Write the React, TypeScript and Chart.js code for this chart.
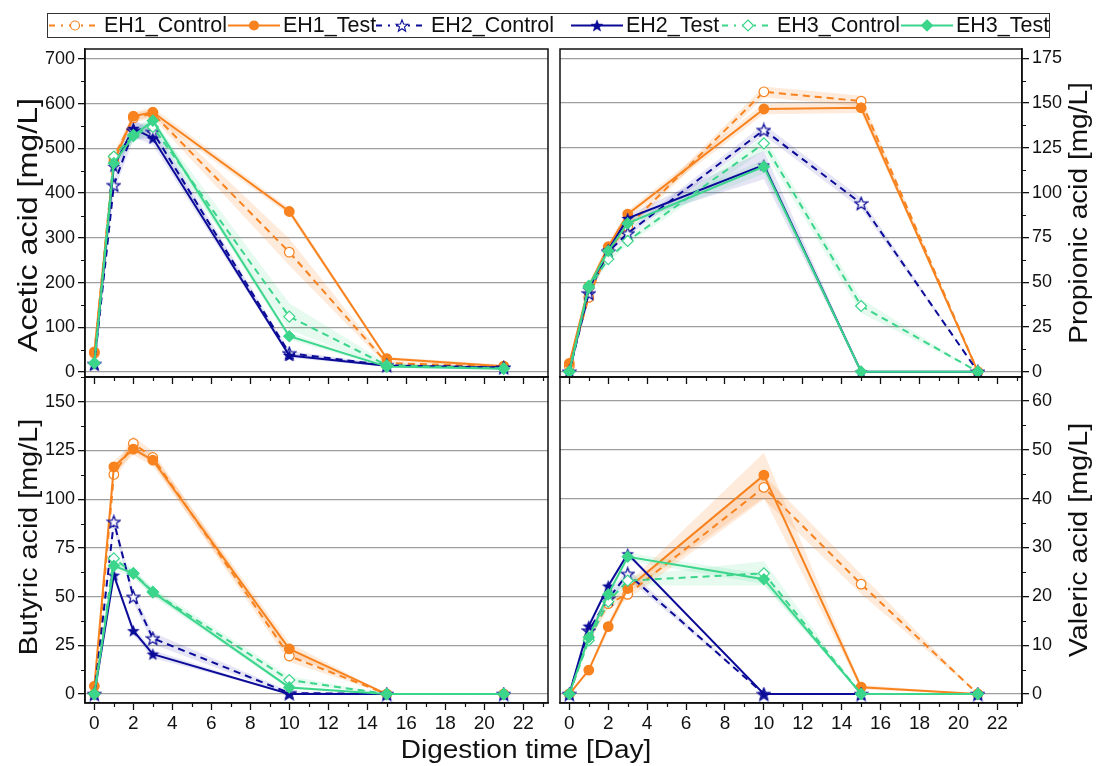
import React, { useEffect, useRef } from "react";
import { Chart, registerables } from "chart.js";

Chart.register(...registerables);

// ---------------- DATA ----------------
const days = [0, 1, 2, 3, 10, 15, 21];
const seriesNames = ["EH1_Control", "EH1_Test", "EH2_Control", "EH2_Test", "EH3_Control", "EH3_Test"];

// Acetic acid [mg/L]
const aceticEH1Control = [42, 480, 568, 578, 268, 20, 12];
const aceticEH1Test = [45, 470, 572, 581, 359, 30, 13];
const aceticEH2Control = [18, 418, 540, 537, 42, 15, 10];
const aceticEH2Test = [18, 460, 545, 523, 37, 14, 10];
const aceticEH3Control = [20, 482, 530, 548, 124, 15, 8];
const aceticEH3Test = [20, 467, 528, 562, 80, 12, 7];
const aceticEH1ControlSd = [5, 10, 10, 10, 30, 5, 3];
const aceticEH1TestSd = [5, 10, 10, 10, 8, 4, 3];
const aceticEH2ControlSd = [3, 15, 20, 15, 5, 3, 2];
const aceticEH2TestSd = [3, 15, 20, 15, 5, 3, 2];
const aceticEH3ControlSd = [3, 10, 15, 15, 30, 5, 2];
const aceticEH3TestSd = [3, 10, 15, 10, 8, 3, 2];

// Propionic acid [mg/L]
const propEH1Control = [3, 41.5, 68, 81, 156.3, 151.1, 0];
const propEH1Test = [4.7, 47.5, 69.8, 88, 146.7, 147.4, 0];
const propEH2Control = [0, 43.8, 67, 77.3, 135, 94, 0];
const propEH2Test = [0, 46, 68, 85.6, 115.4, 0, 0];
const propEH3Control = [0, 47, 62.9, 73, 127.5, 36.7, 0];
const propEH3Test = [0, 47.9, 67.4, 82.8, 114.5, 0, 0];
const propEH1ControlSd = [1, 2, 2, 2, 3, 3, 0];
const propEH1TestSd = [1, 2, 2, 2, 3, 3, 0];
const propEH2ControlSd = [0, 2, 2, 2, 3, 3, 0];
const propEH2TestSd = [0, 2, 2, 2, 8, 0, 0];
const propEH3ControlSd = [0, 2, 2, 2, 4, 4, 0];
const propEH3TestSd = [0, 2, 2, 2, 4, 0, 0];

// Butyric acid [mg/L]
const butEH1Control = [0, 112.7, 128.6, 121.4, 19.5, 0, 0];
const butEH1Test = [4.1, 116.6, 125.7, 120, 23.2, 0, 0];
const butEH2Control = [0, 88.4, 49.9, 28.6, 0.5, 0, 0];
const butEH2Test = [0, 61, 32.5, 20.5, 0, 0, 0];
const butEH3Control = [0, 69.6, 62, 52.5, 7.2, 0, 0];
const butEH3Test = [0, 65.8, 61.9, 52.2, 3.4, 0, 0];
const butEH1ControlSd = [0, 3, 4, 3, 3, 0, 0];
const butEH1TestSd = [0, 3, 3, 3, 3, 0, 0];
const butEH2ControlSd = [0, 3, 3, 3, 1, 0, 0];
const butEH2TestSd = [0, 2, 2, 2, 0, 0, 0];
const butEH3ControlSd = [0, 2, 2, 2, 2, 0, 0];
const butEH3TestSd = [0, 2, 2, 2, 1, 0, 0];

// Valeric acid [mg/L]
const valEH1Control = [0, 11.5, 18.5, 20.4, 42.3, 22.5, 0];
const valEH1Test = [0, 4.9, 13.8, 21.6, 44.8, 1.4, 0];
const valEH2Control = [0, 13, 19.5, 24.6, 0, 0, 0];
const valEH2Test = [0, 13.9, 22.1, 28.7, 0, 0, 0];
const valEH3Control = [0, 11, 18.9, 23.2, 24.7, 0, 0];
const valEH3Test = [0, 11.6, 20.4, 28.1, 23.5, 0, 0];
const valEH1ControlSd = [0, 1, 1, 1, 2.5, 2, 0];
const valEH1TestSd = [0, 0.5, 1, 1, 4.6, 0.5, 0];
const valEH2ControlSd = [0, 0.5, 1, 1, 0, 0, 0];
const valEH2TestSd = [0, 0.5, 0.5, 0.5, 0, 0, 0];
const valEH3ControlSd = [0, 0.5, 1, 1, 2.5, 0, 0];
const valEH3TestSd = [0, 0.5, 1, 0.8, 1, 0, 0];

const xTickStep = 2;
const acetTicks = { min: -11.2, max: 722.4, step: 100, minor: 50 };
const propTicks = { min: -2.96, max: 180.2, step: 25, minor: 12.5 };
const butTicks = { min: -4.6, max: 162.7, step: 25, minor: 12.5 };
const valTicks = { min: -1.84, max: 64.9, step: 10, minor: 5 };

// ---------------- STYLE ----------------
const FONT = "'Liberation Sans', Arial, Helvetica, sans-serif";
const ORANGE = "#F7821E";
const NAVY = "#0B0B98";
const GREEN = "#3BD58B";
const BAND = ["rgba(247,130,30,0.16)", "rgba(247,130,30,0.16)", "rgba(40,40,170,0.12)", "rgba(40,40,170,0.12)", "rgba(59,213,139,0.13)", "rgba(59,213,139,0.13)"];
const COLORS = [ORANGE, ORANGE, NAVY, NAVY, GREEN, GREEN];
const MARKERS = ["circle", "circle", "star", "star", "rectRot", "rectRot"];

function starCanvas(color: string, filled: boolean) {
  const size = 15;
  const c = document.createElement("canvas");
  c.width = size;
  c.height = size;
  const ctx = c.getContext("2d")!;
  const cx = size / 2, cy = size / 2 + 0.6, R = size / 2 - 0.8, r = R * 0.42;
  ctx.beginPath();
  for (let k = 0; k < 10; k++) {
    const a = -Math.PI / 2 + (k * Math.PI) / 5;
    const rad = k % 2 === 0 ? R : r;
    ctx.lineTo(cx + rad * Math.cos(a), cy + rad * Math.sin(a));
  }
  ctx.closePath();
  if (filled) {
    ctx.fillStyle = color;
    ctx.fill();
  } else {
    ctx.fillStyle = "#fff";
    ctx.fill();
    ctx.strokeStyle = color;
    ctx.lineWidth = 1.2;
    ctx.stroke();
  }
  return c;
}

type PanelDef = {
  values: number[][];
  sds: number[][];
  yt: { min: number; max: number; step: number; minor: number };
  side: "left" | "right";
  showX: boolean;
  area: { l: number; t: number; r: number; b: number };
};

const W = 1098, H = 766;

const panels: PanelDef[] = [
  {
    values: [aceticEH1Control, aceticEH1Test, aceticEH2Control, aceticEH2Test, aceticEH3Control, aceticEH3Test],
    sds: [aceticEH1ControlSd, aceticEH1TestSd, aceticEH2ControlSd, aceticEH2TestSd, aceticEH3ControlSd, aceticEH3TestSd],
    yt: acetTicks, side: "left", showX: false, area: { l: 85, t: 49, r: 548, b: 377 },
  },
  {
    values: [propEH1Control, propEH1Test, propEH2Control, propEH2Test, propEH3Control, propEH3Test],
    sds: [propEH1ControlSd, propEH1TestSd, propEH2ControlSd, propEH2TestSd, propEH3ControlSd, propEH3TestSd],
    yt: propTicks, side: "right", showX: false, area: { l: 560, t: 49, r: 1022, b: 377 },
  },
  {
    values: [butEH1Control, butEH1Test, butEH2Control, butEH2Test, butEH3Control, butEH3Test],
    sds: [butEH1ControlSd, butEH1TestSd, butEH2ControlSd, butEH2TestSd, butEH3ControlSd, butEH3TestSd],
    yt: butTicks, side: "left", showX: true, area: { l: 85, t: 377, r: 548, b: 703 },
  },
  {
    values: [valEH1Control, valEH1Test, valEH2Control, valEH2Test, valEH3Control, valEH3Test],
    sds: [valEH1ControlSd, valEH1TestSd, valEH2ControlSd, valEH2TestSd, valEH3ControlSd, valEH3TestSd],
    yt: valTicks, side: "right", showX: true, area: { l: 560, t: 377, r: 1022, b: 703 },
  },
];

const framePlugin = {
  id: "frameMinor",
  afterDraw(chart: any, _args: any, opts: any) {
    const { ctx, chartArea } = chart;
    const { left, right, top, bottom } = chartArea;
    ctx.save();
    ctx.strokeStyle = "#111";
    ctx.lineWidth = 1.5;
    ctx.strokeRect(left, top, right - left, bottom - top);
    ctx.lineWidth = 1.2;
    const xs = chart.scales.x;
    ctx.beginPath();
    for (let v = 1; v <= 23; v += 2) {
      const px = Math.round(xs.getPixelForValue(v)) + 0.5;
      ctx.moveTo(px, bottom);
      ctx.lineTo(px, bottom + 4);
    }
    const ys = chart.scales.y;
    for (let v = opts.minor; v < ys.max; v += opts.minor * 2) {
      const py = Math.round(ys.getPixelForValue(v)) + 0.5;
      if (opts.side === "left") {
        ctx.moveTo(left - 4, py);
        ctx.lineTo(left, py);
      } else {
        ctx.moveTo(right, py);
        ctx.lineTo(right + 4, py);
      }
    }
    ctx.stroke();
    ctx.restore();
  },
};

function buildChart(canvas: HTMLCanvasElement, p: PanelDef) {
  const datasets: any[] = [];
  p.values.forEach((vals, i) => {
    const sd = p.sds[i];
    datasets.push({
      data: days.map((d, j) => ({ x: d, y: vals[j] - sd[j] })),
      borderColor: "transparent", borderWidth: 0, pointRadius: 0, fill: false, order: 100,
    });
    datasets.push({
      data: days.map((d, j) => ({ x: d, y: vals[j] + sd[j] })),
      borderColor: "transparent", borderWidth: 0, pointRadius: 0, fill: "-1", backgroundColor: BAND[i], order: 100,
    });
  });
  p.values.forEach((vals, i) => {
    const control = i % 2 === 0;
    const color = COLORS[i];
    let pointStyle: any = MARKERS[i];
    if (pointStyle === "star") pointStyle = starCanvas(color, !control);
    datasets.push({
      label: seriesNames[i],
      data: days.map((d, j) => ({ x: d, y: vals[j] })),
      borderColor: color,
      borderWidth: 2,
      borderDash: control ? [7, 5] : [],
      pointStyle,
      pointRadius: MARKERS[i] === "rectRot" ? 5.5 : 4.8,
      pointBackgroundColor: control ? "#fff" : color,
      pointBorderColor: color,
      pointBorderWidth: 1.2,
      fill: false,
      tension: 0,
      order: 10 - i,
    });
  });

  const yAxisWidth = p.side === "left" ? p.area.l : W - p.area.r;
  const xAxisHeight = p.showX ? 40 : 8;
  const padding = {
    left: p.side === "left" ? 0 : p.area.l,
    right: p.side === "left" ? W - p.area.r : 0,
    top: p.area.t,
    bottom: H - p.area.b - xAxisHeight,
  };

  return new Chart(canvas, {
    type: "line",
    data: { datasets },
    plugins: [framePlugin],
    options: {
      animation: false,
      responsive: false,
      maintainAspectRatio: false,
      devicePixelRatio: 1,
      layout: { padding },
      plugins: {
        legend: { display: false },
        tooltip: { enabled: false },
        frameMinor: { minor: p.yt.minor, side: p.side },
      } as any,
      scales: {
        x: {
          type: "linear",
          position: "bottom",
          min: -0.48,
          max: 23.27,
          ticks: {
            display: p.showX,
            stepSize: xTickStep,
            includeBounds: false,
            autoSkip: false,
            maxRotation: 0,
            color: "#111",
            padding: 2,
            font: { family: FONT, size: 19 },
          },
          grid: { drawOnChartArea: false, drawTicks: true, tickLength: 7, tickColor: "#111", tickWidth: 1.3 },
          border: { display: true, color: "#111", width: 1.5 },
          afterFit: (s: any) => { s.height = xAxisHeight; },
        },
        y: {
          type: "linear",
          position: p.side,
          min: p.yt.min,
          max: p.yt.max,
          ticks: {
            stepSize: p.yt.step,
            includeBounds: false,
            autoSkip: false,
            color: "#111",
            padding: 3,
            font: { family: FONT, size: 18 },
          },
          grid: { color: "#9e9e9e", lineWidth: 1.3, drawTicks: true, tickLength: 7, tickColor: "#111", tickWidth: 1.3 },
          border: { display: true, color: "#111", width: 1.5 },
          afterFit: (s: any) => { s.width = yAxisWidth; },
        },
      },
    } as any,
  });
}

function LegendSample({ idx }: { idx: number }) {
  const color = COLORS[idx];
  const control = idx % 2 === 0;
  const fill = control ? "#fff" : color;
  const cx = 26, cy = 12.5;
  let marker: React.ReactNode;
  if (MARKERS[idx] === "circle") {
    marker = <circle cx={cx} cy={cy} r={4.5} fill={fill} stroke={color} strokeWidth={1.2} />;
  } else if (MARKERS[idx] === "rectRot") {
    marker = <polygon points={`${cx},${cy - 5.5} ${cx + 5.5},${cy} ${cx},${cy + 5.5} ${cx - 5.5},${cy}`} fill={fill} stroke={color} strokeWidth={1.2} />;
  } else {
    const pts: string[] = [];
    const R = 6.2, r = R * 0.42;
    for (let k = 0; k < 10; k++) {
      const a = -Math.PI / 2 + (k * Math.PI) / 5;
      const rad = k % 2 === 0 ? R : r;
      pts.push(`${(cx + rad * Math.cos(a)).toFixed(2)},${(cy + 0.6 + rad * Math.sin(a)).toFixed(2)}`);
    }
    marker = <polygon points={pts.join(" ")} fill={fill} stroke={color} strokeWidth={control ? 1.1 : 0.5} />;
  }
  return (
    <svg width={52} height={25} style={{ display: "block" }}>
      <line x1={0} y1={cy} x2={52} y2={cy} stroke={color} strokeWidth={2} strokeDasharray={control ? "6 6 2 6" : undefined} />
      {marker}
    </svg>
  );
}

const legendTextLeft = [103, 282, 430, 625, 776, 955];

export default function App() {
  const refs = [useRef<HTMLCanvasElement>(null), useRef<HTMLCanvasElement>(null), useRef<HTMLCanvasElement>(null), useRef<HTMLCanvasElement>(null)];
  useEffect(() => {
    const charts = panels.map((p, i) => buildChart(refs[i].current!, p));
    return () => charts.forEach((c) => c.destroy());
  }, []);

  const titleStyle = (x: number, y: number, rotate: boolean, size = 25, sx = 1.12): React.CSSProperties => ({
    position: "absolute",
    left: x,
    top: y,
    transform: `translate(-50%, -50%)${rotate ? " rotate(-90deg)" : ""} scaleX(${sx})`,
    whiteSpace: "nowrap",
    fontSize: size,
    lineHeight: `${Math.round(size * 1.2)}px`,
    color: "#111",
  });

  return (
    <div style={{ position: "absolute", left: 0, top: 0, width: W, height: H, background: "#fff", fontFamily: FONT, overflow: "hidden" }}>
      {refs.map((r, i) => (
        <canvas key={i} ref={r} width={W} height={H} style={{ position: "absolute", left: 0, top: 0, width: W, height: H }} />
      ))}
      <div style={{ position: "absolute", left: 47, top: 13, width: 1003, height: 25, border: "1px solid #333", boxSizing: "border-box", overflow: "hidden", background: "transparent" }}>
        {seriesNames.map((n, i) => (
          <div key={n} style={{ position: "absolute", left: legendTextLeft[i] - 47 - 55, top: -1, display: "flex", alignItems: "center", height: 25 }}>
            <LegendSample idx={i} />
            <span style={{ fontSize: 21.5, lineHeight: "25px", color: "#111", marginLeft: 3, whiteSpace: "nowrap" }}>{n}</span>
          </div>
        ))}
      </div>
      <div style={titleStyle(28, 225, true, 28, 1.15)}>Acetic acid [mg/L]</div>
      <div style={titleStyle(1078, 213, true)}>Propionic acid [mg/L]</div>
      <div style={titleStyle(28, 537, true, 25, 1.15)}>Butyric acid [mg/L]</div>
      <div style={titleStyle(1078, 540, true, 25, 1.15)}>Valeric acid [mg/L]</div>
      <div style={titleStyle(526, 749, false)}>Digestion time [Day]</div>
    </div>
  );
}
